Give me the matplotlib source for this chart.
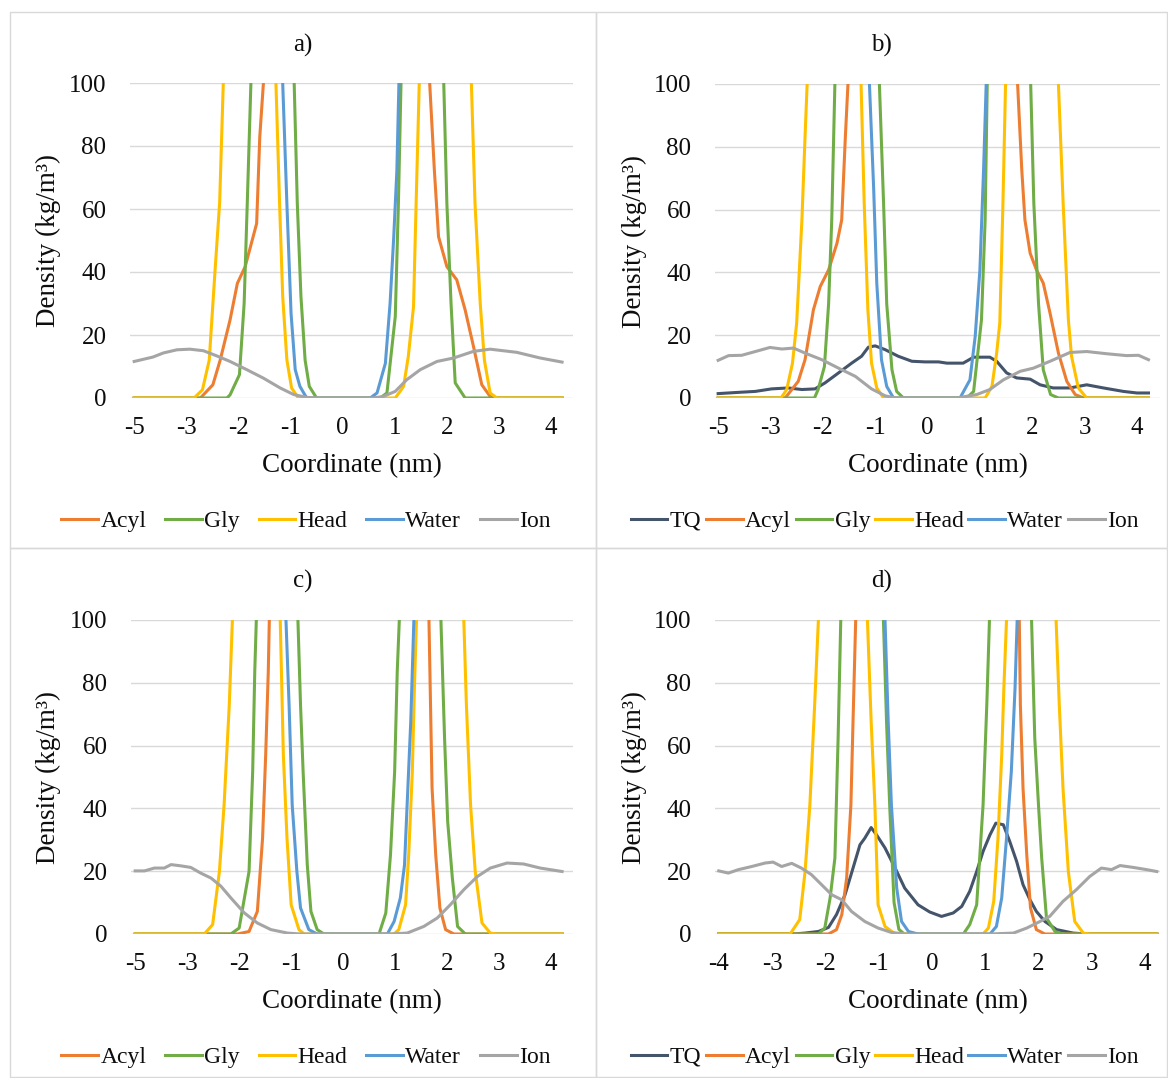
import matplotlib.pyplot as plt
from matplotlib.patches import Rectangle

plt.rcParams['font.family'] = ['Liberation Serif', 'DejaVu Serif']

# series colours (Excel office palette)
colors = {'TQ': '#44546A', 'Acyl': '#ED7D31', 'Gly': '#70AD47',
          'Head': '#FFC000', 'Water': '#5B9BD5', 'Ion': '#A5A5A5'}

# x tick labels (category axis labels as shown in the figure)
ticks_abc = ['-5', '-3', '-2', '-1', '0', '1', '2', '3', '4']
ticks_d = ['-4', '-3', '-2', '-1', '0', '1', '2', '3', '4']

# ---- panel a : (coordinate, density) pairs ----
A_ACYL = [(-4.0, 0), (-2.73, 0), (-2.49, 4.2), (-2.35, 12), (-2.16, 24.8), (-2.02, 36.4), (-1.87, 41.7),
          (-1.65, 55.4), (-1.59, 82.9), (-1.52, 100), (-1.45, 160), (-1.2, 400), (0, 900), (1.4, 400),
          (1.6, 160), (1.67, 100), (1.76, 72.3), (1.84, 51.2), (2.0, 41.7), (2.19, 37.5), (2.35, 28),
          (2.51, 16.4), (2.67, 4.2), (2.83, 0.5), (2.96, 0), (4.21, 0)]
A_GLY = [(-4.0, 0), (-2.22, 0), (-2.16, 1), (-1.98, 7.4), (-1.89, 30), (-1.83, 61.8), (-1.76, 100),
         (-1.7, 200), (-1.35, 350), (-1.0, 200), (-0.93, 100), (-0.87, 61.8), (-0.80, 32.2), (-0.72, 12),
         (-0.64, 3.7), (-0.50, 0), (0.72, 0), (0.85, 1.6), (1.01, 25.9), (1.07, 61.8), (1.12, 100),
         (1.18, 200), (1.5, 350), (1.88, 200), (1.94, 100), (2.0, 61.8), (2.08, 30), (2.16, 4.8),
         (2.35, 0), (4.21, 0)]
A_HEAD = [(-4.0, 0), (-2.85, 0), (-2.69, 2.6), (-2.56, 12), (-2.45, 40), (-2.36, 62), (-2.29, 100),
          (-2.22, 200), (-1.8, 420), (-1.35, 200), (-1.28, 100), (-1.21, 61.8), (-1.15, 32.2),
          (-1.07, 12.1), (-0.98, 3.2), (-0.85, 0), (1.01, 0), (1.17, 3.7), (1.26, 13.2), (1.36, 29),
          (1.41, 61.8), (1.47, 100), (1.54, 200), (1.97, 420), (2.4, 200), (2.47, 100), (2.54, 61.8),
          (2.64, 30), (2.72, 12), (2.83, 1.6), (2.96, 0), (4.21, 0)]
A_WATER = [(-4.0, 1000), (-1.3, 400), (-1.22, 200), (-1.15, 100), (-1.07, 61.8), (-0.99, 26.9),
           (-0.91, 9), (-0.82, 3.7), (-0.69, 0), (0.53, 0), (0.66, 1.6), (0.82, 11), (0.91, 30),
           (0.98, 51), (1.04, 72), (1.08, 100), (1.15, 200), (1.25, 400), (4.21, 1000)]
A_ION = [(-4.0, 11.6), (-3.64, 13), (-3.44, 14.3), (-3.18, 15.3), (-2.93, 15.5), (-2.67, 15),
         (-2.42, 13.4), (-2.16, 11.6), (-1.84, 9), (-1.52, 6.3), (-1.2, 3.2), (-0.94, 1.1),
         (-0.69, 0.2), (-0.5, 0), (0.59, 0), (0.78, 0.5), (1.01, 2.1), (1.23, 5.8), (1.49, 9),
         (1.81, 11.6), (2.13, 12.7), (2.51, 14.8), (2.83, 15.5), (3.34, 14.5), (3.79, 12.7), (4.21, 11.4)]

# ---- panel b ----
B_TQ = [(-4.0, 1.4), (-3.61, 1.8), (-3.29, 2.1), (-2.98, 2.9), (-2.66, 3.2), (-2.40, 2.7), (-2.15, 2.9),
        (-1.96, 4.8), (-1.70, 8), (-1.45, 11.1), (-1.26, 13.3), (-1.13, 16.2), (-1.00, 16.6),
        (-0.81, 15.4), (-0.56, 13.3), (-0.30, 11.7), (-0.05, 11.5), (0.21, 11.5), (0.37, 11.1),
        (0.68, 11.1), (0.88, 13), (1.19, 13), (1.32, 11.7), (1.51, 8), (1.70, 6.4), (1.96, 6),
        (2.15, 4.2), (2.40, 3.2), (2.72, 3.2), (3.04, 4.2), (3.36, 3.2), (3.74, 2.1), (4.0, 1.6), (4.22, 1.6)]
B_ACYL = [(-4.0, 0), (-2.72, 0), (-2.47, 5.3), (-2.34, 12.2), (-2.18, 28.1), (-2.05, 35.5), (-1.89, 40.8),
          (-1.73, 49.3), (-1.64, 56.7), (-1.57, 83.2), (-1.52, 100), (-1.45, 160), (-1.2, 400), (0, 900),
          (1.5, 400), (1.66, 160), (1.72, 100), (1.80, 72.6), (1.86, 56.7), (1.96, 46.1), (2.08, 40.8),
          (2.21, 36.6), (2.34, 27), (2.50, 14.3), (2.66, 5.3), (2.82, 1.1), (2.98, 0), (4.22, 0)]
B_GLY = [(-4.0, 0), (-2.16, 0), (-2.09, 2.7), (-1.97, 10), (-1.89, 30), (-1.83, 56.7), (-1.77, 100),
         (-1.7, 200), (-1.35, 350), (-0.99, 200), (-0.92, 100), (-0.84, 62), (-0.78, 30), (-0.68, 9),
         (-0.59, 2.1), (-0.46, 0), (0.75, 0), (0.88, 2.1), (1.03, 24.9), (1.10, 56.7), (1.14, 100),
         (1.2, 200), (1.55, 350), (1.91, 200), (1.97, 100), (2.03, 62), (2.12, 30), (2.21, 9),
         (2.35, 1.1), (2.50, 0), (4.22, 0)]
B_HEAD = [(-4.0, 0), (-2.80, 0), (-2.69, 2.7), (-2.58, 11.1), (-2.50, 23.9), (-2.40, 56.7), (-2.34, 83.2),
          (-2.30, 100), (-2.23, 200), (-1.8, 420), (-1.34, 200), (-1.27, 100), (-1.21, 62), (-1.14, 28.1),
          (-1.07, 11.1), (-0.97, 3.2), (-0.84, 0), (1.10, 0), (1.23, 3.7), (1.32, 14.3), (1.38, 23.9),
          (1.44, 62), (1.49, 100), (1.56, 200), (2.0, 420), (2.43, 200), (2.50, 100), (2.59, 62),
          (2.69, 24.9), (2.75, 13.3), (2.88, 3.2), (3.04, 0), (4.22, 0)]
B_WATER = [(-4.0, 1000), (-1.25, 400), (-1.18, 200), (-1.11, 100), (-1.03, 67), (-0.97, 36.6),
           (-0.88, 12.2), (-0.78, 3.7), (-0.65, 0), (0.62, 0), (0.81, 5.8), (0.91, 19.6), (1.0, 40.8),
           (1.07, 72.6), (1.12, 100), (1.19, 200), (1.3, 400), (4.22, 1000)]
B_ION = [(-4.0, 12), (-3.8, 13.5), (-3.55, 13.6), (-3.29, 14.8), (-3.01, 16.1), (-2.78, 15.6),
         (-2.56, 15.9), (-2.34, 14.3), (-2.02, 12.2), (-1.70, 9.5), (-1.38, 6.9), (-1.07, 2.9),
         (-0.81, 0.7), (-0.62, 0), (0.56, 0), (0.94, 1.1), (1.19, 2.7), (1.45, 5.8), (1.77, 8.5),
         (2.02, 9.5), (2.34, 11.7), (2.72, 14.5), (3.04, 14.8), (3.42, 14.1), (3.8, 13.5), (4.03, 13.6),
         (4.22, 12.2)]

# ---- panel c ----
C_ACYL = [(-4.0, 0), (-2.03, 0), (-1.81, 0.8), (-1.65, 7.2), (-1.55, 30.5), (-1.49, 57), (-1.44, 83.6),
          (-1.42, 100), (-1.36, 200), (-1.0, 600), (0, 900), (1.3, 600), (1.6, 200), (1.65, 100),
          (1.68, 73), (1.71, 46.4), (1.78, 25.2), (1.86, 8.3), (1.97, 1.4), (2.13, 0), (4.21, 0)]
C_GLY = [(-4.0, 0), (-2.16, 0), (-2.0, 1.9), (-1.81, 19.9), (-1.74, 51.7), (-1.70, 83.6), (-1.67, 100),
         (-1.6, 200), (-1.27, 350), (-0.93, 200), (-0.87, 100), (-0.82, 73), (-0.77, 51.7), (-0.69, 22),
         (-0.62, 7.2), (-0.50, 1.4), (-0.37, 0), (0.69, 0), (0.82, 6.7), (0.91, 25.2), (0.99, 51.7),
         (1.04, 83.6), (1.08, 100), (1.14, 200), (1.48, 350), (1.82, 200), (1.88, 100), (1.95, 62.4),
         (2.01, 35.8), (2.10, 17.8), (2.20, 2.4), (2.35, 0), (4.21, 0)]
C_HEAD = [(-4.0, 0), (-2.67, 0), (-2.51, 3), (-2.38, 19.9), (-2.29, 41.1), (-2.19, 73), (-2.13, 100),
          (-2.06, 200), (-1.67, 420), (-1.28, 200), (-1.21, 100), (-1.15, 57), (-1.08, 30.5), (-1.0, 9.3),
          (-0.85, 1.4), (-0.75, 0), (0.98, 0), (1.07, 1.4), (1.20, 9.3), (1.26, 25.2), (1.33, 51.7),
          (1.37, 78.3), (1.41, 100), (1.48, 200), (1.87, 420), (2.25, 200), (2.32, 100), (2.37, 73),
          (2.45, 41.1), (2.54, 19.9), (2.67, 3.5), (2.83, 0.3), (2.96, 0), (4.21, 0)]
C_WATER = [(-4.0, 1000), (-1.25, 400), (-1.17, 200), (-1.10, 100), (-1.04, 73), (-0.98, 41.1),
           (-0.89, 19.9), (-0.82, 8.3), (-0.66, 1.4), (-0.50, 0), (0.85, 0), (0.98, 4), (1.10, 11.5),
           (1.18, 22), (1.23, 41.1), (1.30, 67.7), (1.36, 100), (1.43, 200), (1.55, 400), (4.21, 1000)]
C_ION = [(-4.0, 20.1), (-3.82, 20.1), (-3.63, 21), (-3.44, 21), (-3.31, 22.1), (-3.12, 21.7), (-2.93, 21.2),
         (-2.74, 19.4), (-2.54, 17.8), (-2.35, 15.2), (-2.16, 11.5), (-1.9, 6.7), (-1.65, 3.5),
         (-1.39, 1.4), (-1.07, 0.3), (-0.82, 0), (0.91, 0), (1.23, 0.3), (1.55, 2.4), (1.81, 5.1),
         (2.06, 9.3), (2.32, 14.1), (2.58, 18.3), (2.83, 21), (3.15, 22.6), (3.47, 22.3), (3.79, 21),
         (4.21, 19.9)]

# ---- panel d ----
D_TQ = [(-4.0, 0), (-2.6, 0), (-2.38, 0.3), (-2.13, 0.8), (-1.94, 2.1), (-1.79, 6.2), (-1.63, 12.5),
        (-1.48, 21), (-1.35, 28.4), (-1.26, 30.5), (-1.14, 33.9), (-1.04, 31.6), (-0.88, 27.4),
        (-0.69, 21), (-0.51, 14.6), (-0.26, 9.3), (-0.04, 7), (0.18, 5.6), (0.40, 6.7), (0.56, 8.8),
        (0.71, 13.6), (0.84, 19.9), (0.96, 26.3), (1.09, 31.6), (1.2, 35.3), (1.34, 34.8), (1.46, 29.5),
        (1.59, 23.1), (1.71, 15.7), (1.84, 10.9), (1.96, 7.2), (2.12, 4), (2.34, 1.4), (2.65, 0.3),
        (2.9, 0), (4.22, 0)]
D_ACYL = [(-4.0, 0), (-1.94, 0), (-1.79, 1.4), (-1.69, 6.2), (-1.60, 17.8), (-1.52, 41.1), (-1.48, 67.7),
          (-1.43, 100), (-1.37, 200), (-1.0, 600), (0, 900), (1.3, 600), (1.58, 200), (1.64, 100),
          (1.66, 73), (1.71, 46.4), (1.78, 25.2), (1.85, 8.3), (1.96, 1.4), (2.12, 0), (4.22, 0)]
D_GLY = [(-4.0, 0), (-2.13, 0), (-2.01, 1.9), (-1.91, 11.5), (-1.82, 24.2), (-1.76, 62.4), (-1.71, 100),
         (-1.64, 200), (-1.3, 350), (-0.98, 200), (-0.91, 100), (-0.85, 67), (-0.79, 40), (-0.71, 10),
         (-0.62, 1.5), (-0.52, 0), (0.59, 0), (0.71, 3), (0.84, 9.3), (0.96, 41.1), (1.03, 73),
         (1.08, 100), (1.14, 200), (1.5, 350), (1.81, 200), (1.87, 100), (1.93, 62.4), (2.0, 41.1),
         (2.06, 24.2), (2.15, 5.1), (2.31, 0.8), (2.46, 0), (4.22, 0)]
D_HEAD = [(-4.0, 0), (-2.66, 0), (-2.48, 4.6), (-2.38, 19.9), (-2.29, 41.1), (-2.20, 73), (-2.13, 100),
          (-2.06, 200), (-1.67, 420), (-1.28, 200), (-1.21, 100), (-1.14, 67.7), (-1.07, 41.1),
          (-1.01, 9.3), (-0.88, 2.4), (-0.69, 0), (0.96, 0), (1.06, 1.9), (1.16, 10.4), (1.24, 30.5),
          (1.31, 57), (1.35, 78.3), (1.40, 100), (1.47, 200), (1.87, 420), (2.26, 200), (2.33, 100),
          (2.39, 73), (2.46, 46.4), (2.56, 19.9), (2.68, 4), (2.84, 0.3), (2.96, 0), (4.22, 0)]
D_WATER = [(-4.0, 1000), (-1.0, 400), (-0.94, 200), (-0.88, 100), (-0.82, 67.7), (-0.76, 41.1),
           (-0.66, 14.6), (-0.57, 4), (-0.44, 0.8), (-0.26, 0), (1.09, 0), (1.21, 2.4), (1.31, 11.5),
           (1.40, 30.5), (1.49, 51.7), (1.56, 78.3), (1.60, 100), (1.67, 200), (1.8, 400), (4.22, 1000)]
D_ION = [(-4.0, 20.1), (-3.82, 19.4), (-3.63, 20.5), (-3.38, 21.5), (-3.13, 22.6), (-2.98, 22.9),
         (-2.82, 21.5), (-2.63, 22.5), (-2.45, 21), (-2.26, 18.9), (-2.07, 15.7), (-1.88, 12.5),
         (-1.69, 10.9), (-1.51, 7.2), (-1.26, 4), (-1.01, 1.9), (-0.76, 0.5), (-0.51, 0), (1.09, 0),
         (1.53, 0.3), (1.78, 1.9), (2.03, 4), (2.21, 5.6), (2.46, 10.4), (2.71, 14.1), (2.96, 18.3),
         (3.18, 21), (3.37, 20.5), (3.53, 21.8), (3.78, 21.2), (4.03, 20.5), (4.22, 19.9)]

W, H = 1168, 1078
fig = plt.figure(figsize=(W / 100, H / 100), dpi=100)
txt = '#0D0D0D'


def fx(px):
    return px / W


def fy(py):
    return 1 - py / H


# panel: title, chart box (l, t, r, b), axes box (l, t, r, b), xlim, tick labels, series
panels = [
    ('a)', (10, 12, 596, 548), (130, 83, 573, 398), (-4.08, 4.42), ticks_abc,
     [('Acyl', A_ACYL), ('Gly', A_GLY), ('Head', A_HEAD), ('Water', A_WATER), ('Ion', A_ION)]),
    ('b)', (596, 12, 1167, 548), (715, 84, 1160, 398), (-4.06, 4.44), ticks_abc,
     [('TQ', B_TQ), ('Acyl', B_ACYL), ('Gly', B_GLY), ('Head', B_HEAD), ('Water', B_WATER), ('Ion', B_ION)]),
    ('c)', (10, 548, 596, 1077), (131, 620, 573, 934), (-4.08, 4.42), ticks_abc,
     [('Acyl', C_ACYL), ('Gly', C_GLY), ('Head', C_HEAD), ('Water', C_WATER), ('Ion', C_ION)]),
    ('d)', (596, 548, 1167, 1077), (715, 620, 1160, 934), (-4.07, 4.28), ticks_d,
     [('TQ', D_TQ), ('Acyl', D_ACYL), ('Gly', D_GLY), ('Head', D_HEAD), ('Water', D_WATER), ('Ion', D_ION)]),
]

for title, box, abox, xlim, tlabels, series in panels:
    l, t, r, b = box
    fig.patches.append(Rectangle((fx(l), fy(b)), (r - l) / W, (b - t) / H, transform=fig.transFigure,
                                 fill=False, edgecolor='#D9D9D9', lw=1.0))
    al, at, ar, ab = abox
    ax = fig.add_axes([fx(al), fy(ab), (ar - al) / W, (ab - at) / H])
    for name, pts in series:
        xs = [p[0] for p in pts]
        ys = [p[1] for p in pts]
        ax.plot(xs, ys, color=colors[name], lw=2.2, label=name, solid_joinstyle='round')
    ax.set_xlim(*xlim)
    ax.set_ylim(0, 100)
    ax.set_yticks([0, 20, 40, 60, 80, 100])
    ax.set_xticks(range(-4, 5))
    ax.set_xticklabels(tlabels)
    ax.grid(axis='y', color='#D9D9D9', lw=1.0)
    ax.set_axisbelow(True)
    for s in ax.spines.values():
        s.set_visible(False)
    ax.tick_params(length=0, labelsize=18, colors=txt)
    ax.tick_params(axis='y', pad=17)
    ax.tick_params(axis='x', pad=14)

    cx = (l + r) / 2
    fig.text(fx(cx), fy(t + 33), title, ha='center', va='center', fontsize=18, color=txt)
    fig.text(fx((al + ar) / 2), fy(ab + 68), 'Coordinate (nm)', ha='center', va='center',
             fontsize=19.5, color=txt)
    fig.text(fx(l + 38), fy((at + ab) / 2), 'Density (kg/m³)', ha='center', va='center',
             rotation=90, fontsize=19.5, color=txt)

    h, lab = ax.get_legend_handles_labels()
    fig.legend(h, lab, loc='center', bbox_to_anchor=(fx(cx + 3), fy(t + 509)), ncol=len(lab),
               frameon=False, fontsize=17, handlelength=1.55, handletextpad=0.1,
               columnspacing=0.8 if len(lab) == 5 else 0.2, borderpad=0, labelcolor=txt)

fig.savefig('out.png', dpi=100)
